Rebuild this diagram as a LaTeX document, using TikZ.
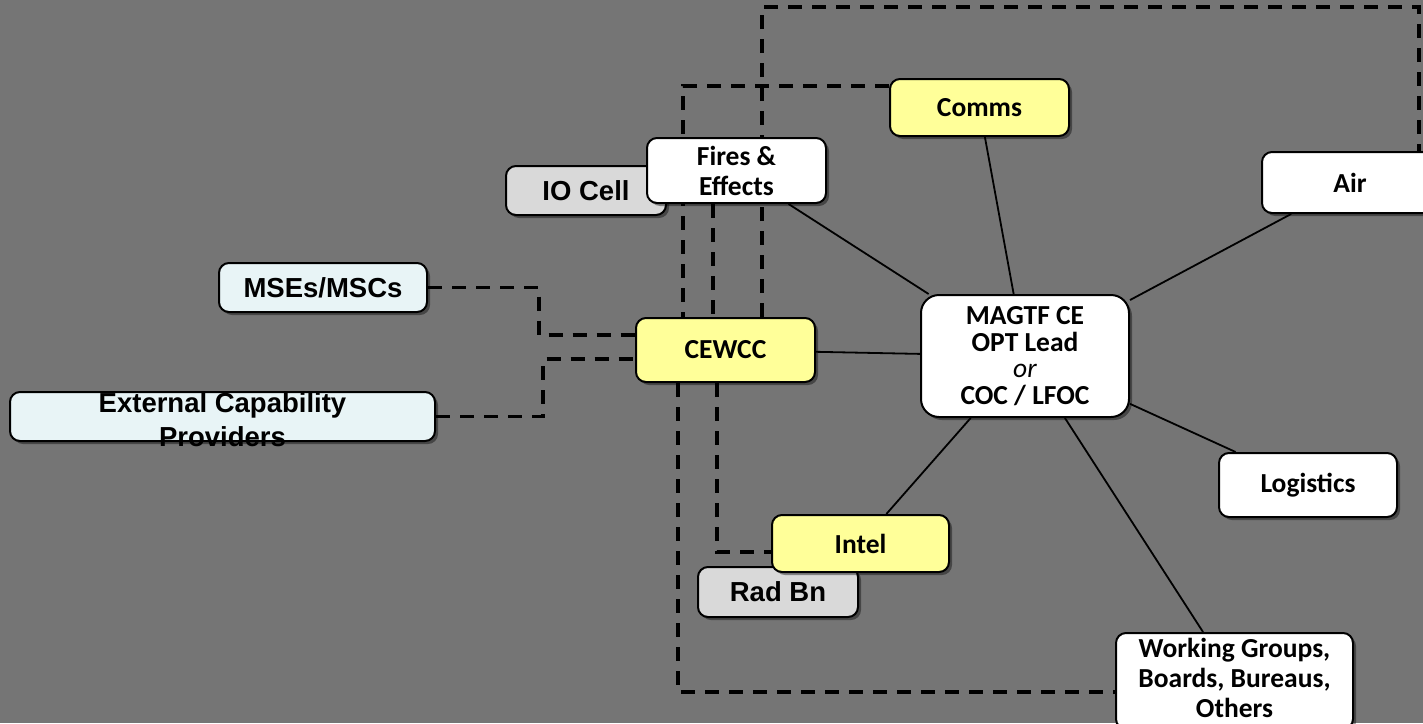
\documentclass[tikz,border=0pt]{standalone}
\usepackage{fontspec}
\setmainfont{Carlito}
\newfontfamily\arialfont{Liberation Sans}
\usetikzlibrary{positioning}
\usetikzlibrary{shadows}

\definecolor{slate}{RGB}{117,117,117}
\definecolor{cellyellow}{RGB}{255,255,153}
\definecolor{supportgray}{RGB}{217,217,217}
\definecolor{palecyan}{RGB}{232,244,246}

\newcommand\boxfont{\fontsize{27.5}{30}\selectfont\bfseries}
\newcommand\sansboxfont{\arialfont\fontsize{27.5}{34}\selectfont\bfseries}

\pgfdeclarelayer{backdrop}
\pgfdeclarelayer{links}
\pgfsetlayers{backdrop,links,main}

\begin{document}
\begin{tikzpicture}[ x = 1pt
                   , y = -1pt
                   % one unit is one pixel of the slide
                   ]

  %%
  %% Node types
  %%
  \tikzset{ box/.style = { rectangle
                         , rounded corners = 10pt
                         , draw            = black
                         , line width      = 2pt
                         , align           = center
                         , inner sep       = 0pt
                         , font            = \boxfont
                         , drop shadow     = {shadow xshift=3pt, shadow yshift=-3pt, opacity=0.4, fill=black}
                         }
          , staff/.style={box, fill=white}
          , cell/.style={box, fill=cellyellow}
          , support/.style={box, fill=supportgray, font=\sansboxfont}
          , outside/.style={box, fill=palecyan, font=\sansboxfont}
          , outsidetext/.style={font=\sansboxfont, align=center, yshift=-3pt}
          }

  %%
  %% Arrow types
  %%
  \tikzset{ link/.style={draw=black, line width=1.8pt}
          , dashlink/.style={draw=black, line width=3.5pt, dash pattern=on 14pt off 10pt}
          }

  \useasboundingbox (0,0) rectangle (1423,723);
  \begin{pgfonlayer}{backdrop}
    \fill[slate] (0,0) rectangle (1423,723);
  \end{pgfonlayer}

  %%
  %% Nodes
  %%
  \node (magtf) [staff, rounded corners=18pt, minimum width=208pt, minimum height=122pt,
                 font=\fontsize{27.5}{26.5}\selectfont\bfseries] at (1025,356)
        {MAGTF CE\\OPT Lead\\{\mdseries\itshape or}\\COC / LFOC};

  \node (comms)  [cell, minimum width=179pt, minimum height=57pt] at (979.5,107.5) {Comms};
  \node (air)    [staff, minimum width=176pt, minimum height=61pt] at (1350,182.5) {Air};
  \node (logi)   [staff, minimum width=178pt, minimum height=64pt] at (1308,485) {Logistics};
  \node (wg)     [staff, minimum width=237pt, minimum height=96pt] at (1234.5,681)
        {Working Groups,\\Boards, Bureaus,\\Others\rule[-7pt]{0pt}{0pt}};

  \node (iocell) [support, minimum width=160pt, minimum height=49pt] at (586,190.5) {IO Cell};
  \node (fires)  [staff, minimum width=179pt, minimum height=65pt] at (736.5,170.5) {Fires \&\\Effects};
  \node (cewcc)  [cell, minimum width=179pt, minimum height=64pt] at (725.5,350) {CEWCC};
  \node (radbn)  [support, minimum width=160pt, minimum height=50pt] at (778,592) {Rad Bn};
  \node (intel)  [cell, minimum width=177pt, minimum height=57pt] at (860.5,543.5) {Intel};

  \node (mses)   [outside, minimum width=208pt, minimum height=49pt] at (323,287.5) {MSEs/MSCs};
  \node (ext)    [outside, minimum width=425pt, minimum height=49pt,
                  label={[outsidetext]center:External Capability\\Providers}] at (222.5,416.5) {};

  %%
  %% Relationships between nodes
  %%
  \begin{pgfonlayer}{links}
    %%% Lead to staff sections
    \path[link] (magtf) edge (comms);
    \path[link] (magtf) edge (air);
    \path[link] (magtf) edge (fires);
    \path[link] (magtf) edge (cewcc);
    \path[link] (magtf) edge (intel);
    \path[link] (magtf) edge (logi);
    \path[link] (magtf) edge (wg);

    %%% CEWCC coordination
    \draw[dashlink] ([yshift=-8pt]comms.north west) -| ([xshift=-42.5pt]cewcc.north);
    \draw[dashlink] ([xshift=36.5pt]cewcc.north) -- ++(0,-310) -| ([xshift=69pt]air.north);
    \draw[dashlink] ([xshift=-23.5pt]fires.south) -- ([xshift=-23.5pt]fires.south |- cewcc.north);
    \draw[dashlink] (mses.east) -- ++(111,0) |- ([yshift=15pt]cewcc.west);
    \draw[dashlink] (ext.east) -- ++(107,0) |- ([yshift=-9pt]cewcc.west);
    \draw[dashlink] ([xshift=-8.5pt]cewcc.south) |- ([yshift=-8.5pt]intel.west);
    \draw[dashlink] ([xshift=-47.5pt]cewcc.south) |- ([yshift=-11pt]wg.west);
  \end{pgfonlayer}

\end{tikzpicture}
\end{document}
